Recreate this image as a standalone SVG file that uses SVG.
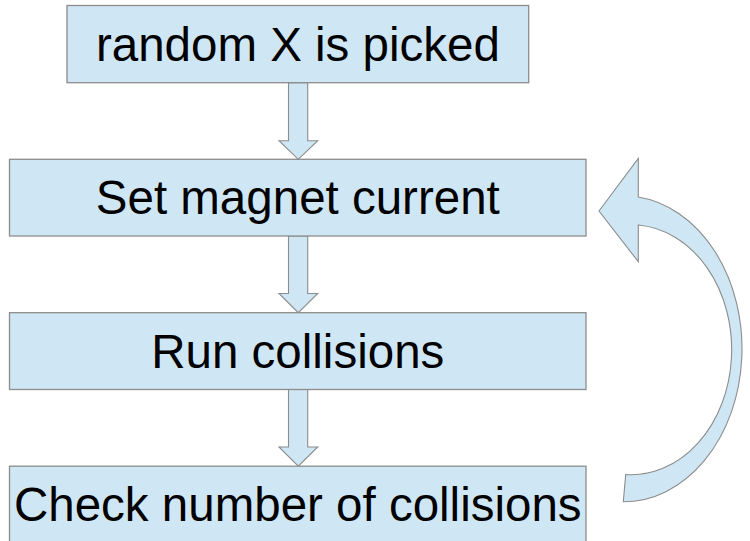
<svg xmlns="http://www.w3.org/2000/svg" width="750" height="541" viewBox="0 0 750 541">
<style>
.box{fill:#cfe7f5;stroke:#8c8c8c;stroke-width:1.3}
.arr{fill:#cfe7f5;stroke:#8c8c8c;stroke-width:1.1;stroke-linejoin:miter}
.t{font-family:"Liberation Sans",Arial,sans-serif;font-size:47.5px;fill:#000;text-anchor:middle}
</style>
<rect width="750" height="541" fill="#fff"/>
<g id="connectors">
<path class="arr" d="M288.5,82.7 L307.7,82.7 L307.7,140.7 L317.7,140.7 L298.3,159.3 L279,140.7 L288.5,140.7 Z"/>
<path class="arr" d="M288.5,236 L307.7,236 L307.7,293.5 L317.7,293.5 L298.3,312.7 L279,293.5 L288.5,293.5 Z"/>
<path class="arr" d="M288.5,389.5 L307.7,389.5 L307.7,447 L317.7,447 L298.3,466.2 L279,447 L288.5,447 Z"/>
<path class="arr" d="M599,211 L638.3,158.3 L638.3,197 A118.5 153 0 0 1 623.3,501.8 L625.7,474.5 A100.5 125 0 0 0 638.3,225 L638.3,261.7 Z"/>
</g>
<g id="node1">
<rect class="box" x="67" y="5.5" width="461.7" height="77.2"/>
<text class="t" x="297.9" y="60.7">random X is picked</text>
</g>
<g id="node2">
<rect class="box" x="9.5" y="159.3" width="576.5" height="76.7"/>
<text class="t" x="297.8" y="214.3">Set magnet current</text>
</g>
<g id="node3">
<rect class="box" x="9.5" y="312.7" width="576.5" height="76.8"/>
<text class="t" x="297.8" y="368">Run collisions</text>
</g>
<g id="node4">
<rect class="box" x="9.5" y="466.2" width="576.5" height="90"/>
<text class="t" x="297.8" y="520.5">Check number of collisions</text>
</g>
</svg>
